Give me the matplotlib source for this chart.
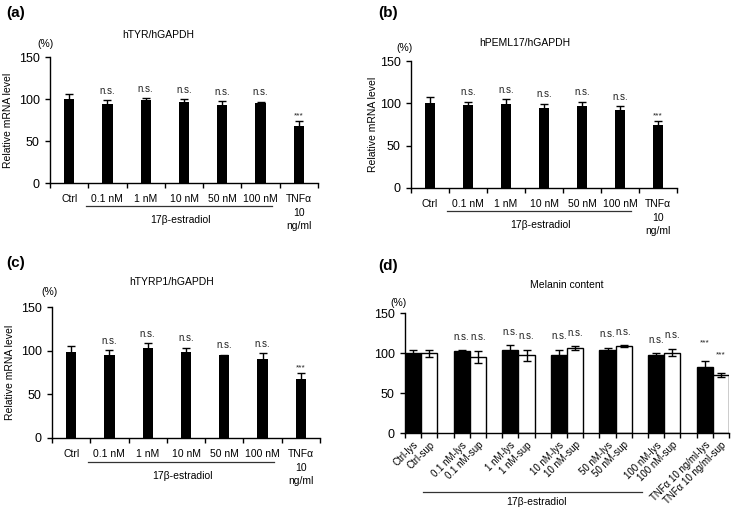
import numpy as np
import matplotlib.pyplot as plt
from matplotlib import transforms

plt.rcParams['font.family'] = ['Liberation Sans', 'DejaVu Sans']

# ---- data ----
cats = ['Ctrl', '0.1 nM', '1 nM', '10 nM', '50 nM', '100 nM', 'TNFα\n10\nng/ml']
sig = ['', 'n.s.', 'n.s.', 'n.s.', 'n.s.', 'n.s.', '***']

tyr_mean = [100, 94, 99, 96.5, 92.5, 95, 68]
tyr_err = [6.5, 4.5, 2, 3.5, 5, 2, 6]

pmel_mean = [100, 98, 99, 94.5, 97, 92, 74.5]
pmel_err = [7, 4, 6, 5, 5, 5, 5]

tyrp1_mean = [99, 94.5, 103, 99, 94.5, 91, 67]
tyrp1_err = [6, 6, 5.5, 4.5, 1, 6, 7]

mel_groups = ['Ctrl', '0.1 nM', '1 nM', '10 nM', '50 nM', '100 nM', 'TNFα 10 ng/ml']
mel_sig = ['', 'n.s.', 'n.s.', 'n.s.', 'n.s.', 'n.s.', '***']
lys_mean = [99.5, 102.5, 103.5, 97, 103.5, 97, 82.5]
lys_err = [4.5, 1, 6, 7, 3, 2.5, 7]
sup_mean = [99.5, 95.5, 97, 106, 108.5, 100.5, 72]
sup_err = [4, 7.5, 7, 2.5, 1, 4.5, 2.5]

W, H = 733, 515
fig = plt.figure(figsize=(W / 100, H / 100), dpi=100)


def px_axes(l, r, top, bottom):
    return fig.add_axes([l / W, 1 - bottom / H, (r - l) / W, (bottom - top) / H])


def style_y(ax):
    ax.set_ylim(0, 150)
    ax.set_yticks([0, 50, 100, 150])
    ax.tick_params(axis='y', direction='out', length=3.5, width=1, labelsize=9, pad=4)
    for s in ['top', 'right']:
        ax.spines[s].set_visible(False)
    ax.spines['left'].set_linewidth(1)
    ax.spines['bottom'].set_linewidth(1)


def fig_text(x, y, s, **kw):
    fig.text(x / W, 1 - y / H, s, **kw)


def mrna_panel(box, mean, err, title, letter, title_xy, pct_xy, ylab_x):
    ax = px_axes(*box)
    x = np.arange(len(cats))
    ax.bar(x, mean, width=0.27, color='black')
    ax.errorbar(x, mean, yerr=err, fmt='none', ecolor='black', elinewidth=1,
                capsize=3, capthick=1)
    for xi, m, e, s in zip(x, mean, err, sig):
        if s == 'n.s.':
            ax.text(xi, m + e + 11, s, ha='center', va='center', fontsize=7, color='#222')
        elif s:
            ax.text(xi, m + e + 6, s, ha='center', va='center', fontsize=6, color='#222')
    ax.set_xlim(-0.5, len(cats) - 0.5)
    ax.set_xticks(x)
    ax.set_xticklabels(cats, fontsize=7.5, linespacing=1.45)
    ax.set_xticks(np.arange(-0.5, len(cats), 1), minor=True)
    ax.tick_params(axis='x', which='major', length=0, pad=8)
    ax.tick_params(axis='x', which='minor', direction='out', length=3.5, width=1)
    style_y(ax)
    trans = transforms.blended_transform_factory(ax.transData, ax.transAxes)
    ax.plot([0.45, 5.3], [-0.18, -0.18], color='#333', lw=0.9, transform=trans, clip_on=False)
    ax.text(2.9, -0.29, '17β-estradiol', ha='center', va='center', fontsize=7.5, transform=trans)
    ax.set_ylabel('Relative mRNA level', fontsize=7.5)
    ax.yaxis.set_label_coords((ylab_x - box[0]) / (box[1] - box[0]), 0.5)
    fig_text(title_xy[0], title_xy[1], title, ha='center', va='center', fontsize=7.5)
    fig_text(pct_xy[0], pct_xy[1], '(%)', ha='center', va='center', fontsize=7.5)
    fig_text(letter[1], letter[2], letter[0], ha='left', va='center', fontsize=11, fontweight='bold')
    return ax


mrna_panel((50, 318, 57, 183), tyr_mean, tyr_err, 'hTYR/hGAPDH', ('(a)', 6, 13),
           (158, 35), (45, 44), 13)
mrna_panel((411, 677, 61, 188), pmel_mean, pmel_err, 'hPEML17/hGAPDH', ('(b)', 378, 13),
           (525, 43), (404, 48), 378)
mrna_panel((52, 320, 307, 438), tyrp1_mean, tyrp1_err, 'hTYRP1/hGAPDH', ('(c)', 6, 263),
           (172, 282), (50, 292), 15)

# ---- (d) melanin content ----
box = (405, 729, 313, 433)
ax = px_axes(*box)
g = np.arange(len(mel_groups))
x_lys = 3 * g
x_sup = 3 * g + 1
ax.bar(x_lys, lys_mean, width=1.0, color='black', edgecolor='black', lw=1)
ax.bar(x_sup, sup_mean, width=1.0, color='white', edgecolor='black', lw=1)
ax.errorbar(x_lys, lys_mean, yerr=lys_err, fmt='none', ecolor='black', elinewidth=1,
            capsize=3, capthick=1)
ax.errorbar(x_sup, sup_mean, yerr=sup_err, fmt='none', ecolor='black', elinewidth=1,
            capsize=3, capthick=1)
for xs, ms, es in [(x_lys, lys_mean, lys_err), (x_sup, sup_mean, sup_err)]:
    for xi, m, e, s in zip(xs, ms, es, mel_sig):
        if s == 'n.s.':
            ax.text(xi, m + e + 17, s, ha='center', va='center', fontsize=7, color='#222')
        elif s:
            ax.text(xi, m + e + 23, s, ha='center', va='center', fontsize=6, color='#222')
ax.set_xlim(-0.5, 3 * len(mel_groups) - 1.5)
labels = []
pos = []
for i, name in enumerate(mel_groups):
    labels += [name + '-lys', name + '-sup']
    pos += [3 * i, 3 * i + 1]
ax.set_xticks(pos)
ax.set_xticklabels(labels, fontsize=7, rotation=45, ha='right', rotation_mode='anchor')
ax.set_xticks(np.arange(-0.5, 3 * len(mel_groups) - 1, 1), minor=True)
ax.tick_params(axis='x', which='major', length=0, pad=5)
ax.tick_params(axis='x', which='minor', direction='out', length=3.5, width=1)
style_y(ax)
trans = transforms.blended_transform_factory(ax.transData, ax.transAxes)
ax.plot([0.6, 14.1], [-0.49, -0.49], color='#333', lw=0.9, transform=trans, clip_on=False)
ax.text(7.6, -0.575, '17β-estradiol', ha='center', va='center', fontsize=7.5, transform=trans)
fig_text(567, 285, 'Melanin content', ha='center', va='center', fontsize=7.5)
fig_text(398, 303, '(%)', ha='center', va='center', fontsize=7.5)
fig_text(378, 266, '(d)', ha='left', va='center', fontsize=11, fontweight='bold')

fig.savefig('out.png', dpi=100)
